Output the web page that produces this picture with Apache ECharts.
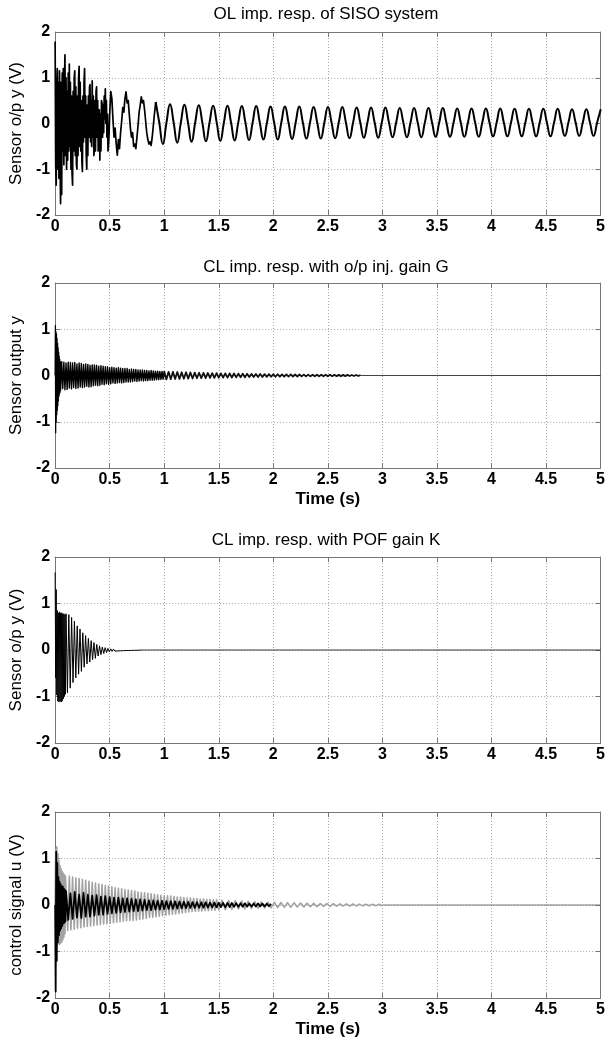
<!DOCTYPE html>
<html><head><meta charset="utf-8">
<script src="https://cdn.jsdelivr.net/npm/echarts@6/dist/echarts.min.js"></script>
<style>html,body{margin:0;padding:0;background:#fff}#c{width:608px;height:1050px}</style>
</head><body><div id="c"></div>
<script>
// ---------- text ----------
const titles = ['OL imp. resp. of SISO system', 'CL imp. resp. with o/p inj. gain G', 'CL imp. resp. with POF gain K', ''];
const yNames = ['Sensor o/p y (V)', 'Sensor output y', 'Sensor o/p y (V)', 'control signal u (V)'];
const xNames = ['', 'Time (s)', '', 'Time (s)'];

// ---------- plot 1 : OL impulse response (uniform samples: start, step, values) ----------
const olEarlyStart = 0, olEarlyStep = 0.005;
const olEarlyY = [1.79,-0.9,-1.35,0.8,1.2,-1.0,0.9,-1.2,1.15,-0.8,
 -1.75,0.9,-1.55,1.1,-0.6,1.2,-0.9,0.8,1.5,-0.7,
 1.0,-1.0,0.7,-0.8,1.1,-0.6,1.3,-0.5,0.9,-1.0,
 0.6,-1.1,-1.35,0.7,-0.6,1.0,1.15,-0.7,0.8,-0.9,
 -1.0,0.6,-0.7,1.0,1.25,-0.5,0.9,-0.6,0.5,-0.8,
 -1.05,0.6,-0.4,0.9,1.2,-0.3,0.6,-0.7,-1.0,0.4,
 -0.7,0.6,-0.3,0.8,0.85,-0.4,0.5,-0.5,0.93,-0.3,
 0.6,-0.7,-0.55,0.5,-0.6,0.7,0.8,-0.3,0.5,-0.6,
 -0.4,0.3,-0.8,0.2,-0.6,0.5,0.45,-0.3,0.4,-0.2,
 0.6,0.1,0.76,0.0,0.5,-0.3,0.2,-0.6,-0.45,-0.2];
const olMidStart = 0.5, olMidStep = 0.01;
const olMidY = [0.2,0.7,0.55,0.1,-0.3,-0.1,-0.45,-0.69,-0.35,-0.55,
 -0.2,0.05,0.35,0.25,0.55,0.69,0.45,0.5,0.2,-0.1,
 -0.3,-0.2,-0.5,-0.45,-0.55,-0.3,-0.05,0.25,0.4,0.58,
 0.45,0.5,0.3,0.05,-0.2,-0.35,-0.45,-0.4,-0.48,-0.3,
 -0.05,0.2];
const olTailStart = 0.922, olTailStep = 0.0329;
const olTailY = [0.47,0.02,-0.45,0.02, 0.42,0.02,-0.42,0.02, 0.41,0.02,-0.40,0.02, 0.40,0.02,-0.39,0.02,
 0.39,0.02,-0.38,0.02, 0.39,0.02,-0.37,0.02, 0.38,0.02,-0.36,0.02, 0.38,0.02,-0.35,0.02,
 0.37,0.02,-0.35,0.02, 0.37,0.02,-0.34,0.02, 0.37,0.02,-0.33,0.02, 0.36,0.02,-0.33,0.02,
 0.36,0.02,-0.32,0.02, 0.36,0.02,-0.32,0.02, 0.35,0.02,-0.31,0.02, 0.35,0.02,-0.31,0.02,
 0.35,0.02,-0.30,0.02, 0.34,0.02,-0.30,0.02, 0.34,0.02,-0.30,0.02, 0.34,0.02,-0.29,0.02,
 0.34,0.02,-0.29,0.02, 0.33,0.02,-0.29,0.02, 0.33,0.02,-0.29,0.02, 0.33,0.02,-0.28,0.02,
 0.33,0.02,-0.28,0.02, 0.32,0.02,-0.28,0.02, 0.32,0.02,-0.28,0.02, 0.32,0.02,-0.28,0.02,
 0.32,0.02,-0.27,0.02, 0.31,0.02,-0.27,0.02, 0.31,0.02,-0.27,0.02, 0.31];

// ---------- plot 2 : CL with output injection gain G ----------
const cgEarlyStart = 0, cgEarlyStep = 0.0025;
const cgEarlyY = [0.0,1.08,-1.24,0.95,-1.0,0.9,-0.85,0.8,-0.75,0.7,-0.65,0.6,-0.55,0.5,-0.45,0.42,-0.4,0.35,-0.36,0.3];
const cgMidStart = 0.05, cgMidStep = 0.01;
const cgMidY = [-0.32,0.3,-0.28,0.29,-0.31,0.27,-0.3,0.29,-0.27,0.28,
 -0.29,0.27,-0.26,0.28,-0.28,0.25,-0.27,0.27,-0.25,0.26,
 -0.26,0.24,-0.25,0.25,-0.23,0.24,-0.25,0.22,-0.24,0.23,
 -0.22,0.23,-0.21,0.22,-0.22,0.2,-0.21,0.21,-0.19,0.2,
 -0.2,0.19,-0.18,0.19,-0.19,0.17,-0.18,0.18,-0.16,0.17,
 -0.17,0.16,-0.16,0.17,-0.15,0.16,-0.16,0.15,-0.15,0.15,
 -0.14,0.15,-0.14,0.13,-0.14,0.14,-0.13,0.13,-0.12,0.13,
 -0.13,0.12,-0.12,0.12,-0.11,0.12,-0.12,0.11,-0.11,0.11,
 -0.11,0.1,-0.1,0.11,-0.1,0.1,-0.1,0.095,-0.09,0.095,
 -0.09,0.09,-0.085,0.09,-0.085];
const cgLateStart = 1.0, cgLateStep = 0.02;
const cgLateY = [0.085,-0.085,0.08,-0.08,0.08,-0.075,0.075,-0.075,0.07,-0.07,
 0.07,-0.068,0.066,-0.064,0.062,-0.06,0.06,-0.058,0.056,-0.055,
 0.055,-0.053,0.052,-0.05,0.05,-0.048,0.047,-0.046,0.045,-0.045,
 0.045,-0.043,0.042,-0.041,0.04,-0.039,0.038,-0.037,0.036,-0.035,
 0.035,-0.034,0.033,-0.032,0.032,-0.031,0.03,-0.03,0.029,-0.028,
 0.028,-0.027,0.027,-0.026,0.025,-0.025,0.024,-0.023,0.023,-0.022,
 0.022,-0.021,0.021,-0.02,0.02,-0.02,0.019,-0.019,0.018,-0.018,
 0.018,-0.017,0.017,-0.016,0.016,-0.016,0.015,-0.015,0.015,-0.014,
 0.014,-0.014,0.013,-0.013,0.013,-0.012,0.012,-0.012,0.011,-0.011,
 0.01];
const cgRestT = [2.8, 5.0], cgRestY = [0, 0];

// ---------- plot 3 : CL with POF gain K ----------
const pfEarlyStart = 0, pfEarlyStep = 0.005;
const pfEarlyY = [1.67,-0.6,1.3,-0.97,0.85,-1.1,0.8,-1.12,0.82,-1.1,0.8,-1.12,0.8,-1.1,0.78,-1.05,0.78,-1.0,0.76,-0.95];
const pfMidStart = 0.1, pfMidStep = 0.0128;
const pfMidY = [0.78,-0.92,0.76,-0.82,0.7,-0.7,0.62,-0.6,0.52,-0.52,
 0.45,-0.46,0.37,-0.37,0.31,-0.3,0.25,-0.26,0.2,-0.21,
 0.16,-0.18,0.12,-0.13,0.09,-0.1,0.065,-0.075,0.05,-0.055,
 0.035,-0.04,0.025,-0.03,0.02,-0.025,0.016,-0.02,0.013,-0.017,
 0.011,-0.014,0.009,-0.012,0.008,-0.01,0.007,-0.009,0.006,-0.007,
 0.005,-0.006,0.004,-0.005,0.003];
const pfRestT = [0.79, 5.0], pfRestY = [0, 0];

// ---------- plot 4 : control signal u ----------
const ugEarlyStart = 0, ugEarlyStep = 0.005;
const ugEarlyY = [0,1.2,-1.15,1.25,-0.85,1.1,-0.82,0.95,-0.85,0.85,-0.82,0.78,-0.8,0.72,-0.75,0.68,-0.7,0.65,-0.62,0.62];
const ugMidStart = 0.1, ugMidStep = 0.015;
const ugMidY = [0.6,-0.55,0.62,-0.53,0.6,-0.52,0.58,-0.5,0.57,-0.49,
 0.55,-0.47,0.53,-0.46,0.51,-0.45,0.49,-0.44,0.47,-0.43,
 0.45,-0.42,0.44,-0.41,0.42,-0.4,0.41,-0.39,0.39,-0.38,
 0.37,-0.37,0.36,-0.36,0.35,-0.35,0.33,-0.34,0.32,-0.33,
 0.31,-0.33,0.3,-0.32,0.28,-0.31,0.27,-0.3,0.26,-0.29,
 0.25,-0.27,0.24,-0.26,0.23,-0.25,0.22,-0.24,0.21,-0.23,
 0.2,-0.22,0.2,-0.21,0.19,-0.2,0.18,-0.19,0.17,-0.18,
 0.17,-0.17,0.16,-0.16,0.15,-0.15,0.15,-0.14,0.14,-0.14,
 0.14,-0.13,0.13,-0.13,0.13,-0.12,0.12,-0.12,0.12,-0.11,
 0.11,-0.11,0.11];
const ugLateStart = 1.5, ugLateStep = 0.03;
const ugLateY = [-0.105,0.1,-0.1,0.095,-0.09,0.09,-0.085,0.085,-0.08,0.078,
 -0.075,0.073,-0.07,0.068,-0.065,0.063,-0.06,0.058,-0.055,0.053,
 -0.05,0.049,-0.047,0.046,-0.044,0.042,-0.04,0.039,-0.037,0.036,
 -0.034,0.033,-0.031,0.03,-0.028,0.027,-0.026,0.025,-0.024,0.023,
 -0.022,0.021,-0.02,0.019,-0.018,0.017,-0.016,0.016,-0.015,0.015,
 -0.014];
const ugRestT = [3.0, 5.0], ugRestY = [0, 0];
const ubEarlyStart = 0, ubEarlyStep = 0.005;
const ubEarlyY = [0,-1.86,1.15,-1.2,0.9,-0.8,0.6,-0.65,0.5,-0.55,0.45,-0.5,0.4,-0.45,0.4,-0.4,0.35,-0.38,0.32,-0.35];
const ubMidStart = 0.1, ubMidStep = 0.02;
const ubMidY = [0.3,-0.32,0.25,-0.3,0.28,-0.27,0.22,-0.28,0.26,-0.25,
 0.22,-0.25,0.2,-0.23,0.21,-0.21,0.18,-0.21,0.19,-0.19,
 0.17,-0.18,0.16,-0.17,0.16,-0.16,0.14,-0.15,0.14,-0.14,
 0.13,-0.13,0.12,-0.13,0.12,-0.12,0.11,-0.11,0.1,-0.11,
 0.1,-0.1,0.09,-0.095,0.09,-0.09,0.085,-0.085,0.08,-0.08,
 0.078,-0.076,0.074,-0.072,0.07,-0.068,0.066,-0.064,0.063,-0.062,
 0.06,-0.059,0.058,-0.056,0.055,-0.054,0.052,-0.051,0.05,-0.049,
 0.048,-0.047,0.046,-0.045,0.044,-0.043,0.042,-0.041,0.04,-0.039,
 0.038,-0.037,0.036,-0.035,0.034,-0.033,0.033,-0.032,0.031,-0.03,
 0.03,-0.029,0.028,-0.027,0.026];

// ---------- helpers ----------
function seg(t0, dt, ys) { return ys.map((y, i) => [+(t0 + i * dt).toFixed(5), y]); }
function pairs(ts, ys) { return ts.map((t, i) => [t, ys[i]]); }
function last(t0, dt, ys) { return [[+(t0 + dt * (ys.length - 1)).toFixed(5), ys[ys.length - 1]]]; }

const FONT = '"Liberation Sans", Arial, Helvetica, sans-serif';
const gridTop = [32, 283, 557, 812];
const gridH = [183, 185, 186, 186];
const titleY = [14, 267, 540];
const frame = '#777';
const grids = [], xAxes = [], yAxes = [], series = [];
for (let i = 0; i < 4; i++) {
  grids.push({ left: 48, right: 4, top: gridTop[i], height: gridH[i], containLabel: false });
  const tick = { show: true, inside: true, length: 5, lineStyle: { color: frame } };
  xAxes.push({
    type: 'value', gridIndex: i, position: 'bottom', min: 0, max: 5, interval: 0.5,
    axisLine: { show: true, onZero: false, lineStyle: { color: frame, width: 1 } },
    axisTick: tick,
    axisLabel: { show: true, margin: 4, color: '#000', fontSize: 16, fontWeight: 'bold', fontFamily: FONT },
    splitLine: { show: true, lineStyle: { color: '#aaa', type: [1, 2], width: 1 } },
    name: xNames[i], nameLocation: 'middle', nameGap: 23,
    nameTextStyle: { color: '#000', fontSize: 17, fontWeight: 'bold', fontFamily: FONT }
  });
  xAxes.push({
    type: 'value', gridIndex: i, position: 'top', min: 0, max: 5, interval: 0.5,
    axisLine: { show: true, onZero: false, lineStyle: { color: frame, width: 1 } },
    axisTick: tick, axisLabel: { show: false }, splitLine: { show: false }
  });
  yAxes.push({
    type: 'value', gridIndex: i, position: 'left', min: -2, max: 2, interval: 1,
    axisLine: { show: true, onZero: false, lineStyle: { color: frame, width: 1 } },
    axisTick: tick,
    axisLabel: { show: true, margin: 5, color: '#000', fontSize: 16, fontWeight: 'bold', fontFamily: FONT },
    splitLine: { show: true, lineStyle: { color: '#aaa', type: [1, 2], width: 1 } },
    name: yNames[i], nameLocation: 'middle', nameGap: 22,
    nameTextStyle: { color: '#000', fontSize: 17, fontFamily: FONT }
  });
  yAxes.push({
    type: 'value', gridIndex: i, position: 'right', min: -2, max: 2, interval: 1,
    axisLine: { show: true, onZero: false, lineStyle: { color: frame, width: 1 } },
    axisTick: tick, axisLabel: { show: false }, splitLine: { show: false }
  });
}
function line(gi, data, color, width, smooth) {
  return { type: 'line', xAxisIndex: gi * 2, yAxisIndex: gi * 2, data: data, showSymbol: false, symbol: 'none',
    smooth: smooth || false, lineStyle: { color: color, width: width, join: 'round' }, silent: true, animation: false, z: 3 };
}
const olTail = seg(olTailStart, olTailStep, olTailY);
series.push(line(0, seg(olEarlyStart, olEarlyStep, olEarlyY).concat(seg(olMidStart, olMidStep, olMidY), [olTail[0]]), '#000', 1.7));
series.push(line(0, olTail, '#000', 2.0, 0.5));

series.push(line(1, seg(cgEarlyStart, cgEarlyStep, cgEarlyY), '#000', 1.3));
series.push(line(1, last(cgEarlyStart, cgEarlyStep, cgEarlyY).concat(seg(cgMidStart, cgMidStep, cgMidY)), '#000', 1.4));
series.push(line(1, last(cgMidStart, cgMidStep, cgMidY).concat(seg(cgLateStart, cgLateStep, cgLateY)), '#111', 1.8));
series.push(line(1, pairs(cgRestT, cgRestY), '#333', 0.9));

series.push(line(2, seg(pfEarlyStart, pfEarlyStep, pfEarlyY).concat(seg(pfMidStart, pfMidStep, pfMidY)), '#000', 1.0));
series.push(line(2, pairs(pfRestT, pfRestY), '#222', 0.9));

series.push(line(3, seg(ugEarlyStart, ugEarlyStep, ugEarlyY).concat(seg(ugMidStart, ugMidStep, ugMidY), seg(ugLateStart, ugLateStep, ugLateY)), '#a2a2a2', 1.6));
series.push(line(3, pairs(ugRestT, ugRestY), '#666', 0.9));
series.push(line(3, seg(ubEarlyStart, ubEarlyStep, ubEarlyY).concat(seg(ubMidStart, ubMidStep, ubMidY)), '#000', 1.8));

const graphic = titleY.map((y, i) => ({
  type: 'text', x: 326, y: y, silent: true,
  style: { text: titles[i], align: 'center', verticalAlign: 'middle', fill: '#000', font: '17px ' + FONT }
}));

const chart = echarts.init(document.getElementById('c'), null, { renderer: 'canvas' });
chart.setOption({
  backgroundColor: '#fff', animation: false,
  grid: grids, xAxis: xAxes, yAxis: yAxes, series: series, graphic: graphic
});
</script></body></html>
